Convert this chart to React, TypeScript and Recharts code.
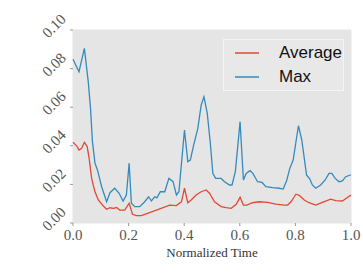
import React from 'react';
import { LineChart, Line, XAxis, YAxis, CartesianGrid } from 'recharts';

// values
const maxX = [0, 0.0215, 0.041, 0.055, 0.063, 0.07, 0.079, 0.088, 0.103, 0.121, 0.133, 0.15, 0.166, 0.18, 0.192, 0.202, 0.21, 0.222, 0.24, 0.258, 0.272, 0.282, 0.294, 0.302, 0.314, 0.33, 0.345, 0.36, 0.372, 0.381, 0.401, 0.413, 0.422, 0.434, 0.449, 0.461, 0.471, 0.483, 0.494, 0.503, 0.513, 0.533, 0.545, 0.563, 0.572, 0.584, 0.601, 0.613, 0.623, 0.637, 0.647, 0.664, 0.68, 0.694, 0.718, 0.742, 0.756, 0.768, 0.78, 0.792, 0.802, 0.811, 0.823, 0.832, 0.84, 0.852, 0.861, 0.873, 0.891, 0.907, 0.921, 0.931, 0.943, 0.957, 0.969, 0.981, 1.0];
const maxY = [0.0848, 0.0784, 0.0905, 0.073, 0.0594, 0.042, 0.031, 0.0275, 0.0188, 0.011, 0.0157, 0.018, 0.0154, 0.0114, 0.0145, 0.031, 0.0102, 0.0085, 0.0085, 0.011, 0.0136, 0.0114, 0.0136, 0.013, 0.0162, 0.0162, 0.0231, 0.0214, 0.0145, 0.0162, 0.0482, 0.0318, 0.0326, 0.0404, 0.049, 0.0611, 0.0654, 0.0568, 0.0413, 0.0257, 0.0231, 0.0231, 0.0214, 0.0197, 0.0197, 0.0266, 0.0525, 0.0223, 0.0257, 0.0271, 0.0257, 0.0214, 0.021, 0.0188, 0.0183, 0.018, 0.0176, 0.0218, 0.0283, 0.0326, 0.0421, 0.0504, 0.043, 0.0335, 0.0249, 0.0228, 0.0197, 0.018, 0.0197, 0.0223, 0.0257, 0.0257, 0.0231, 0.0214, 0.0218, 0.024, 0.025];

const avgX = [0, 0.013, 0.0215, 0.031, 0.041, 0.051, 0.058, 0.067, 0.079, 0.091, 0.109, 0.121, 0.133, 0.145, 0.157, 0.168, 0.186, 0.202, 0.214, 0.228, 0.246, 0.3, 0.348, 0.372, 0.39, 0.401, 0.413, 0.425, 0.443, 0.461, 0.479, 0.491, 0.509, 0.533, 0.551, 0.569, 0.587, 0.601, 0.613, 0.625, 0.646, 0.67, 0.7, 0.73, 0.76, 0.772, 0.784, 0.802, 0.814, 0.832, 0.849, 0.873, 0.897, 0.927, 0.945, 0.969, 1.0];
const avgY = [0.0418, 0.04, 0.0378, 0.0387, 0.0418, 0.0396, 0.0335, 0.0231, 0.0162, 0.0119, 0.0088, 0.0071, 0.0079, 0.0076, 0.008, 0.0067, 0.0067, 0.0102, 0.0045, 0.0038, 0.0038, 0.0067, 0.0093, 0.009, 0.011, 0.018, 0.0105, 0.0119, 0.0145, 0.0162, 0.0171, 0.0154, 0.011, 0.0085, 0.008, 0.0076, 0.0097, 0.0133, 0.0093, 0.0093, 0.0105, 0.011, 0.0107, 0.0098, 0.0093, 0.0093, 0.011, 0.0149, 0.0143, 0.0119, 0.0105, 0.0093, 0.0107, 0.0124, 0.0116, 0.0114, 0.0145];

const xTicks = [0, 0.2, 0.4, 0.6, 0.8, 1.0];
const yTicks = [0, 0.02, 0.04, 0.06, 0.08, 0.1];

const seriesNames = ['Average', 'Max'];
const COLORS = ['#E24A33', '#348ABD'];

const maxData = maxX.map((x, i) => ({ x, y: maxY[i] }));
const avgData = avgX.map((x, i) => ({ x, y: avgY[i] }));

const SERIF = '"Liberation Serif", serif';

function YTick(props: any) {
  const { x, y, payload } = props;
  const cx = x - 14;
  const cy = y - 4;
  return (
    <text
      x={cx}
      y={cy}
      textAnchor="middle"
      dominantBaseline="central"
      transform={`rotate(-45 ${cx} ${cy})`}
      fontFamily={SERIF}
      fontSize={15}
      fill="#555"
    >
      {payload.value.toFixed(2)}
    </text>
  );
}

function LegendBox() {
  return (
    <div
      style={{
        position: 'absolute',
        left: 223,
        top: 39,
        width: 121,
        height: 52,
        background: '#e8e8e8',
        border: '1px solid #f4f4f4',
        fontFamily: '"Liberation Sans", Arial, sans-serif',
        fontSize: 17,
        color: '#111',
        boxSizing: 'border-box',
        paddingTop: 1,
      }}
    >
      {seriesNames.map((name, i) => (
        <div key={name} style={{ display: 'flex', alignItems: 'center', height: 24 }}>
          <svg width={55} height={10}>
            <line x1={11} x2={35} y1={5} y2={5} stroke={COLORS[i]} strokeWidth={1.5} />
          </svg>
          <span>{name}</span>
        </div>
      ))}
    </div>
  );
}

export default function App() {
  return (
    <div style={{ position: 'absolute', left: 0, top: 0, width: 363, height: 273, background: '#fff' }}>
      <LineChart width={363} height={273} margin={{ top: 30, right: 12, left: 13, bottom: 0 }}>
        <CartesianGrid fill="#E5E5E5" stroke="#E5E5E5" />
        <XAxis
          dataKey="x"
          type="number"
          domain={[0, 1]}
          ticks={xTicks}
          height={50}
          axisLine={false}
          tickSize={3}
          tickMargin={3}
          tickLine={{ stroke: '#999' }}
          tickFormatter={(v: number) => v.toFixed(1)}
          tick={{ fontFamily: SERIF, fontSize: 15, fill: '#555' }}
          label={{ value: 'Normalized Time', position: 'insideBottom', offset: 16, style: { fontFamily: SERIF, fontSize: 13, fill: '#333' } }}
        />
        <XAxis
          xAxisId="top"
          orientation="top"
          type="number"
          domain={[0, 1]}
          ticks={xTicks}
          height={0}
          axisLine={false}
          tickSize={3}
          tickLine={{ stroke: '#999' }}
          tick={false}
        />
        <YAxis
          type="number"
          domain={[0, 0.1]}
          ticks={yTicks}
          width={60}
          axisLine={false}
          tickSize={3}
          tickLine={{ stroke: '#999' }}
          tick={<YTick />}
        />
        <YAxis
          yAxisId="right"
          orientation="right"
          type="number"
          domain={[0, 0.1]}
          ticks={yTicks}
          width={0}
          axisLine={false}
          tickSize={3}
          tickLine={{ stroke: '#999' }}
          tick={false}
        />
        <Line data={avgData} dataKey="y" name="Average" type="linear" stroke={COLORS[0]} strokeWidth={1.3} dot={false} isAnimationActive={false} />
        <Line data={maxData} dataKey="y" name="Max" type="linear" stroke={COLORS[1]} strokeWidth={1.3} dot={false} isAnimationActive={false} />
      </LineChart>
      <LegendBox />
    </div>
  );
}
